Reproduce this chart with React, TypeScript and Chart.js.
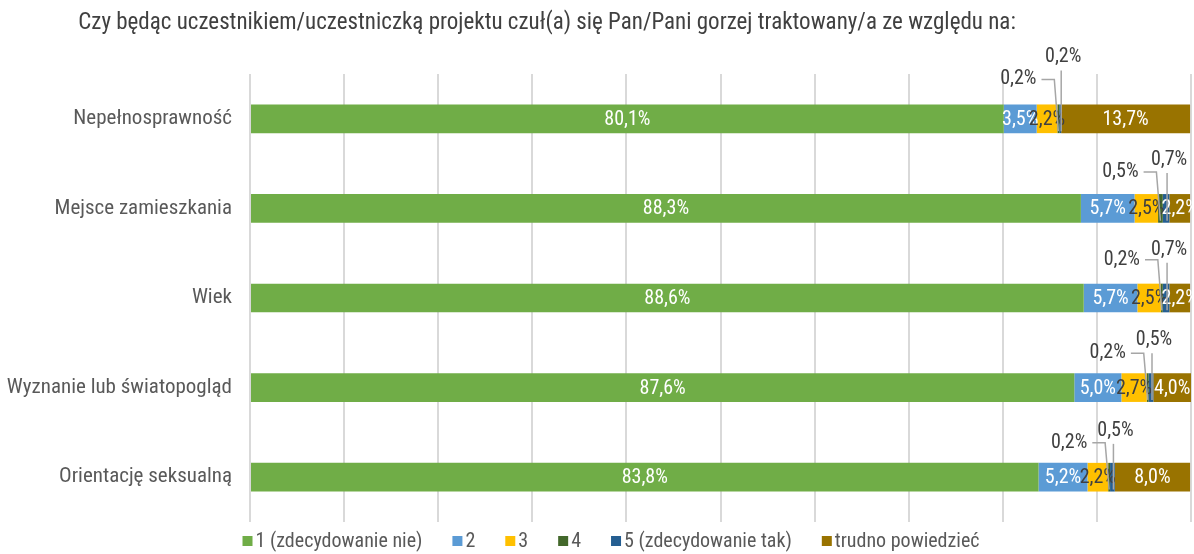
import React, { useEffect, useRef } from 'react';
import { Chart, registerables } from 'chart.js';

Chart.register(...registerables);

const TITLE = 'Czy będąc uczestnikiem/uczestniczką projektu czuł(a) się Pan/Pani gorzej traktowany/a ze względu na:';
const categories = ['Nepełnosprawność', 'Mejsce zamieszkania', 'Wiek', 'Wyznanie lub światopogląd', 'Orientację seksualną'];
const seriesNames = ['1 (zdecydowanie nie)', '2', '3', '4', '5 (zdecydowanie tak)', 'trudno powiedzieć'];
const s1 = [80.1, 88.3, 88.6, 87.6, 83.8];
const s2 = [3.5, 5.7, 5.7, 5.0, 5.2];
const s3 = [2.2, 2.5, 2.5, 2.7, 2.2];
const s4 = [0.2, 0.5, 0.2, 0.2, 0.2];
const s5 = [0.2, 0.7, 0.7, 0.5, 0.5];
const s6 = [13.7, 2.2, 2.2, 4.0, 8.0];
const seriesValues = [s1, s2, s3, s4, s5, s6];
const colors = ['#70AD47', '#5B9BD5', '#FFC000', '#43682B', '#255E91', '#997300'];

// style constants for callout placement (pixels above the bar top)
const CALLOUT4_LIFT = [25, 22, 24, 20, 20];
const CALLOUT5_LIFT = [47, 34, 34, 33, 32];

const FONT = '"Roboto Condensed", sans-serif';

const fmt = (v: number) => v.toFixed(1).replace('.', ',') + '%';

const labelsPlugin = {
  id: 'segLabels',
  afterDatasetsDraw(chart: any) {
    const ctx = chart.ctx as CanvasRenderingContext2D;
    ctx.save();
    ctx.font = `20px ${FONT}`;
    ctx.textBaseline = 'middle';
    ctx.textAlign = 'center';
    chart.data.datasets.forEach((ds: any, di: number) => {
      if (di === 3 || di === 4) return;
      const meta = chart.getDatasetMeta(di);
      meta.data.forEach((bar: any, i: number) => {
        const p = bar.getProps(['x', 'y', 'base'], true);
        const cx = (p.x + p.base) / 2;
        ctx.fillStyle = di === 2 ? '#404040' : '#ffffff';
        ctx.fillText(fmt(ds.data[i]), cx, p.y + 1);
      });
    });
    // callouts for the tiny segments
    ctx.strokeStyle = '#a6a6a6';
    ctx.lineWidth = 1.5;
    [3, 4].forEach((di) => {
      const ds = chart.data.datasets[di];
      const meta = chart.getDatasetMeta(di);
      meta.data.forEach((bar: any, i: number) => {
        const p = bar.getProps(['x', 'y', 'base', 'height'], true);
        const cx = (p.x + p.base) / 2;
        const top = p.y - p.height / 2;
        const bottom = p.y + p.height / 2;
        const txt = fmt(ds.data[i]);
        const w = ctx.measureText(txt).width;
        ctx.fillStyle = '#404040';
        if (di === 3) {
          const ly = top - CALLOUT4_LIFT[i];
          const lx = cx - 40;
          ctx.fillText(txt, lx, ly);
          ctx.beginPath();
          ctx.moveTo(lx + w / 2 + 5, ly);
          ctx.lineTo(cx - 4, ly);
          ctx.lineTo(cx, bottom - 2);
          ctx.stroke();
        } else {
          const ly = top - CALLOUT5_LIFT[i];
          const lx = cx + 3;
          ctx.fillText(txt, lx, ly);
          ctx.beginPath();
          ctx.moveTo(cx + 1, ly + 13);
          ctx.lineTo(cx + 1, bottom - 2);
          ctx.stroke();
        }
      });
    });
    ctx.restore();
  },
  afterDraw(chart: any) {
    const ctx = chart.ctx as CanvasRenderingContext2D;
    ctx.save();
    // title
    ctx.font = `23px ${FONT}`;
    ctx.fillStyle = '#404040';
    ctx.textAlign = 'center';
    ctx.textBaseline = 'middle';
    ctx.fillText(TITLE, 547, 23);
    // legend
    ctx.font = `20px ${FONT}`;
    ctx.textAlign = 'left';
    const box = 10, gapBoxText = 3, gapItems = 30;
    const items = chart.data.datasets.map((ds: any) => ({ text: ds.label, color: ds.backgroundColor, w: ctx.measureText(ds.label).width }));
    let total = 0;
    items.forEach((it: any, k: number) => { total += box + gapBoxText + it.w + (k < items.length - 1 ? gapItems : 0); });
    let x = 611 - total / 2;
    const ly = 541;
    items.forEach((it: any) => {
      ctx.fillStyle = it.color;
      ctx.fillRect(x, ly - box / 2, box, box);
      ctx.fillStyle = '#595959';
      ctx.fillText(it.text, x + box + gapBoxText, ly + 1);
      x += box + gapBoxText + it.w + gapItems;
    });
    ctx.restore();
  },
};

export default function App() {
  const ref = useRef<HTMLCanvasElement | null>(null);
  useEffect(() => {
    document.body.style.margin = '0';
    if (!ref.current) return;
    const chart = new Chart(ref.current, {
      type: 'bar',
      data: {
        labels: categories,
        datasets: seriesValues.map((vals, k) => ({
          label: seriesNames[k],
          data: vals,
          backgroundColor: colors[k],
          borderWidth: 0,
          categoryPercentage: 1,
          barPercentage: 0.32,
        })),
      },
      options: {
        indexAxis: 'y',
        animation: false,
        responsive: true,
        maintainAspectRatio: false,
        layout: { padding: { top: 74, right: 3, bottom: 32, left: 0 } },
        plugins: {
          legend: { display: false },
          title: { display: false },
          tooltip: { enabled: false },
        },
        scales: {
          x: {
            stacked: true,
            min: 0,
            max: 100,
            ticks: { display: false, stepSize: 10 },
            grid: { color: '#d9d9d9', lineWidth: 2, drawTicks: false },
            border: { display: false },
          },
          y: {
            stacked: true,
            ticks: { color: '#595959', font: { family: FONT, size: 21 }, padding: 18 },
            grid: { display: false, drawTicks: false },
            border: { display: false },
            afterFit: (scale: any) => { scale.width = 250; },
          },
        },
      },
      plugins: [labelsPlugin],
    });
    return () => chart.destroy();
  }, []);
  return (
    <div style={{ width: 1194, height: 554, position: 'relative' }}>
      <canvas ref={ref} />
    </div>
  );
}
